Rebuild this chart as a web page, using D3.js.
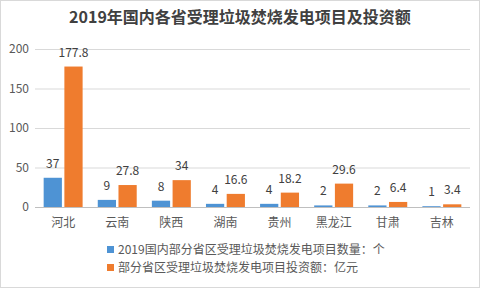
<!DOCTYPE html>
<html><head><meta charset="utf-8">
<script src="https://cdn.jsdelivr.net/npm/d3@7"></script>
<style>body{margin:0;background:#fff}svg{display:block}</style>
</head><body>
<svg id="c" width="480" height="288"></svg>
<script>
const categories = ["河北","云南","陕西","湖南","贵州","黑龙江","甘肃","吉林"];
const projectCounts = [37,9,8,4,4,2,2,1];
const investments = [177.8,27.8,34,16.6,18.2,29.6,6.4,3.4];
const yTicks = [0,50,100,150,200];
const seriesNames = ["2019国内部分省区受理垃圾焚烧发电项目数量：个","部分省区受理垃圾焚烧发电项目投资额：亿元"];
const colors = ["#4E93D4","#EF7C2E"];
const title = "2019年国内各省受理垃圾焚烧发电项目及投资额";

const svg = d3.select("#c");
const font = "'Noto Sans CJK SC','Microsoft YaHei',sans-serif";
svg.append("rect").attr("x",0.5).attr("y",0.5).attr("width",479).attr("height",287)
  .attr("fill","#fff").attr("stroke","#d9d9d9");

svg.append("text").attr("x",240).attr("y",23).attr("text-anchor","middle")
  .attr("font-family",font).attr("font-weight","bold").attr("font-size",16)
  .attr("fill","#404040").text(title);

const x = d3.scaleBand().domain(categories).range([35,470]).paddingInner(0.28).paddingOuter(0.16);
const y = d3.scaleLinear().domain([0,200]).range([207,49]);
const x1 = d3.scaleBand().domain([0,1]).range([0,x.bandwidth()]).paddingInner(0.12);

const grid = svg.append("g");
grid.selectAll("line").data(yTicks).join("line")
  .attr("x1",35).attr("x2",470).attr("y1",d=>y(d)+0.5).attr("y2",d=>y(d)+0.5)
  .attr("stroke",d=>d===0?"#bfbfbf":"#d9d9d9").attr("stroke-width",1);

const yAxis = svg.append("g").attr("transform","translate(29,0)")
  .call(d3.axisLeft(y).tickValues(yTicks).tickSize(0).tickPadding(0));
yAxis.select(".domain").remove();
yAxis.selectAll("text").attr("font-family",font).attr("font-size",12).attr("fill","#595959");

const xAxis = svg.append("g").attr("transform","translate(0,207)")
  .call(d3.axisBottom(x).tickSize(0).tickPadding(11));
xAxis.select(".domain").remove();
xAxis.selectAll("text").attr("font-family",font).attr("font-size",12).attr("fill","#595959");

const series = [projectCounts, investments];
series.forEach((vals,si)=>{
  const g = svg.append("g");
  g.selectAll("rect").data(vals).join("rect")
    .attr("x",(d,i)=>x(categories[i])+x1(si))
    .attr("width",x1.bandwidth())
    .attr("y",d=>y(d)).attr("height",d=>y(0)-y(d))
    .attr("fill",colors[si]);
  g.selectAll("text").data(vals).join("text")
    .attr("x",(d,i)=>x(categories[i])+x1(si)+x1.bandwidth()/2)
    .attr("y",d=>y(d)-10)
    .attr("text-anchor","middle").attr("font-family",font).attr("font-size",12)
    .attr("fill","#404040").text(d=>d);
});

const leg = svg.append("g");
seriesNames.forEach((n,i)=>{
  leg.append("rect").attr("x",107).attr("y",246+i*18).attr("width",7).attr("height",7).attr("fill",colors[i]);
  leg.append("text").attr("x",118).attr("y",254+i*18).attr("font-family",font).attr("font-size",12)
    .attr("fill","#595959").text(n);
});
</script>
</body></html>
